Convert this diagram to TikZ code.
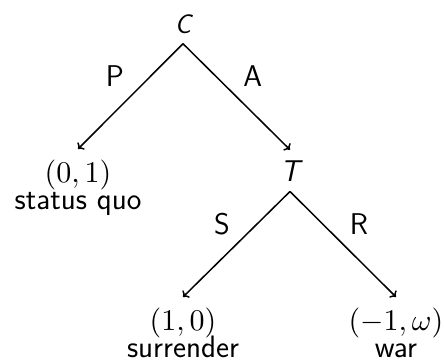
\documentclass[tikz,border=0pt]{standalone}
\usepackage{fontspec}
\usepackage{graphicx}
\usetikzlibrary{arrows.meta}
\newcommand\paymath[1]{\scalebox{3}{\fontsize{10}{12}\selectfont$#1$}}
\newcommand\leaffont{\fontsize{31}{26.5}\selectfont\sffamily\setlength{\lineskiplimit}{-100pt}}
\begin{document}
\begin{tikzpicture}[x=1pt,y=-1pt,
  font=\fontsize{30}{27}\selectfont\sffamily,
  line width=1.5pt,
  edge/.style={-{To[length=5pt,width=10pt]}},
  lbl/.style={inner xsep=6pt, inner ysep=9pt},
  decision/.style={inner sep=0pt, outer ysep=10.5pt},
  leaf/.style={inner sep=0pt, outer ysep=11pt, align=center, anchor=north, font=\leaffont}]
\useasboundingbox (0,0) rectangle (444,362);
\node[decision, anchor=base, font=\fontsize{27}{27}\selectfont\sffamily] (C) at (183,33) {\itshape C};
\node[decision, anchor=base] (T) at (290,181) {\itshape T};
\node[leaf] (SQ) at (78,149) {\paymath{(0,1)}\\status quo};
\node[leaf] (SU) at (183,297) {\paymath{(1,0)}\\surrender};
\node[leaf] (WA) at (396,297) {\paymath{(-1,\omega)}\\war};
\draw[edge] (C.south) -- node[lbl, above left] {P} (SQ.north);
\draw[edge] (C.south) -- node[lbl, above right] {A} (T.north);
\draw[edge] (T.south) -- node[lbl, above left] {S} (SU.north);
\draw[edge] (T.south) -- node[lbl, above right] {R} (WA.north);
\end{tikzpicture}
\end{document}
